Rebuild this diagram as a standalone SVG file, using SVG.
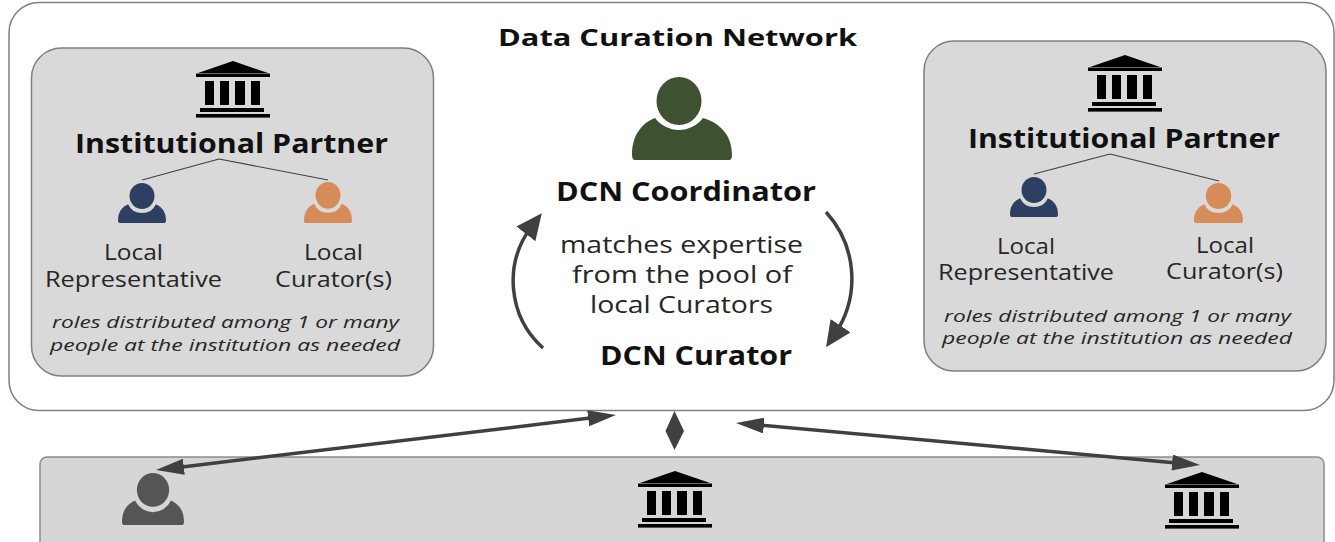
<svg xmlns="http://www.w3.org/2000/svg" width="1335" height="542" viewBox="0 0 1335 542">
  <style>
    text { font-family: "Open Sans", "Liberation Sans", sans-serif; }
    .title { font-size: 24px; font-weight: 700; fill: #111; }
    .head { font-size: 26px; font-weight: 700; fill: #111; }
    .role { font-size: 21px; fill: #262626; }
    .mid { font-size: 24px; fill: #262626; }
    .note { font-size: 17px; font-style: italic; fill: #262626; }
    .panel { fill: #d9d9d9; stroke: #7f7f7f; stroke-width: 1.5; }
    .tie { fill: none; stroke: #404040; stroke-width: 1.2; }
    .dbl { fill: none; stroke: #404040; stroke-width: 3.5; marker-start: url(#ah); marker-end: url(#ah); }
    .arc { fill: none; stroke: #404040; stroke-width: 3.5; marker-end: url(#ahb); }
  </style>
  <defs>
    <marker id="ah" markerUnits="userSpaceOnUse" markerWidth="28" markerHeight="16" refX="10" refY="8" orient="auto-start-reverse">
      <path d="M0,0 L28,8 L0,16 Z" fill="#404040"/>
    </marker>
    <marker id="ahb" markerUnits="userSpaceOnUse" markerWidth="26" markerHeight="24" refX="10" refY="12" orient="auto">
      <path d="M0,0 L26,12 L0,24 Z" fill="#404040"/>
    </marker>
    <symbol id="bank" viewBox="0 0 74 57" width="74" height="57" overflow="visible">
      <path d="M37,0 L72,12 H2 Z" fill="#000"/>
      <rect x="0" y="12.5" width="74" height="3.5"/>
      <rect x="9" y="20" width="9" height="24"/>
      <rect x="24" y="20" width="9" height="24"/>
      <rect x="39" y="20" width="10" height="24"/>
      <rect x="55" y="20" width="9" height="24"/>
      <rect x="4" y="47" width="64" height="4"/>
      <rect x="0" y="53" width="74" height="3.6"/>
    </symbol>
    <symbol id="person" viewBox="-50 0 100 83" preserveAspectRatio="none" overflow="visible">
      <ellipse cx="-3" cy="24" rx="22.5" ry="24" fill="currentColor"/>
      <path d="M-47,83 Q-50,83 -50,78 C-50,58 -40,46 -27,41 A30,30 0 0 0 21,41 C38,46 50,58 50,78 Q50,83 47,83 Z" fill="currentColor"/>
    </symbol>
    <symbol id="person-sm" viewBox="-50 0 100 83" preserveAspectRatio="none" overflow="visible">
      <ellipse cx="0" cy="27" rx="26" ry="27" fill="currentColor"/>
      <path d="M-47,83 Q-50,83 -50,78 C-50,60 -42,50 -29,44 A32,32 0 0 0 29,44 C42,50 50,60 50,78 Q50,83 47,83 Z" fill="currentColor"/>
    </symbol>
  </defs>

  <rect width="1335" height="542" fill="#fff"/>

  <g id="network">
    <rect x="9" y="2.500" width="1325" height="408" rx="30" fill="#fff" stroke="#7f7f7f" stroke-width="1.500"/>
    <text class="title" x="498" y="46" textLength="359" lengthAdjust="spacingAndGlyphs">Data Curation Network</text>
  </g>

  <g id="partner-left">
    <rect class="panel" x="31.500" y="48" width="402" height="328" rx="30"/>
    <use href="#bank" x="196" y="61"/>
    <text class="head" x="75" y="153" textLength="313" lengthAdjust="spacingAndGlyphs">Institutional Partner</text>
    <use href="#person-sm" x="118" y="183" width="48" height="40" color="#2e4062"/>
    <use href="#person-sm" x="304" y="182" width="48" height="41" color="#d68c58"/>
    <text class="role" x="104" y="260" textLength="59" lengthAdjust="spacingAndGlyphs">Local</text>
    <text class="role" x="45" y="287" textLength="177" lengthAdjust="spacingAndGlyphs">Representative</text>
    <text class="role" x="304" y="260" textLength="59" lengthAdjust="spacingAndGlyphs">Local</text>
    <text class="role" x="275" y="287" textLength="117" lengthAdjust="spacingAndGlyphs">Curator(s)</text>
    <text class="note" x="52" y="328" textLength="347" lengthAdjust="spacingAndGlyphs">roles distributed among 1 or many</text>
    <text class="note" x="50" y="351" textLength="350" lengthAdjust="spacingAndGlyphs">people at the institution as needed</text>
  </g>

  <g id="partner-right">
    <rect class="panel" x="924" y="41" width="402" height="330" rx="30"/>
    <use href="#bank" x="1088" y="55"/>
    <text class="head" x="968" y="148" textLength="312" lengthAdjust="spacingAndGlyphs">Institutional Partner</text>
    <use href="#person-sm" x="1010" y="177" width="48" height="40" color="#2e4062"/>
    <use href="#person-sm" x="1194" y="183" width="49" height="40" color="#d68c58"/>
    <text class="role" x="997" y="254" textLength="58" lengthAdjust="spacingAndGlyphs">Local</text>
    <text class="role" x="938" y="280" textLength="176" lengthAdjust="spacingAndGlyphs">Representative</text>
    <text class="role" x="1196" y="253" textLength="58" lengthAdjust="spacingAndGlyphs">Local</text>
    <text class="role" x="1166" y="279" textLength="117" lengthAdjust="spacingAndGlyphs">Curator(s)</text>
    <text class="note" x="944" y="322" textLength="347" lengthAdjust="spacingAndGlyphs">roles distributed among 1 or many</text>
    <text class="note" x="942" y="344" textLength="350" lengthAdjust="spacingAndGlyphs">people at the institution as needed</text>
  </g>

  <g id="coordinator">
    <use href="#person" x="632" y="77" width="100" height="83" color="#3e5232"/>
    <text class="head" x="556" y="201" textLength="260" lengthAdjust="spacingAndGlyphs">DCN Coordinator</text>
  </g>

  <g id="matching">
    <text class="mid" x="560" y="253" textLength="243" lengthAdjust="spacingAndGlyphs">matches expertise</text>
    <text class="mid" x="572" y="283" textLength="220" lengthAdjust="spacingAndGlyphs">from the pool of</text>
    <text class="mid" x="590" y="313" textLength="183" lengthAdjust="spacingAndGlyphs">local Curators</text>
  </g>

  <g id="curator">
    <text class="head" x="600" y="365" textLength="192" lengthAdjust="spacingAndGlyphs">DCN Curator</text>
  </g>

  <g id="members">
    <rect x="40" y="457" width="1284" height="110" rx="7" fill="#d6d6d6" stroke="#8c8c8c" stroke-width="1.500"/>
    <g id="member-person"><use href="#person-sm" x="122" y="473" width="62" height="52" color="#555555"/></g>
    <g id="member-institution-center"><use href="#bank" x="638" y="471"/></g>
    <g id="member-institution-right"><use href="#bank" x="1165" y="472"/></g>
  </g>

  <g id="connectors">
    <line class="tie" x1="219" y1="159" x2="142" y2="180"/>
    <line class="tie" x1="219" y1="159" x2="328" y2="180"/>
    <line class="tie" x1="1110" y1="154" x2="1034" y2="174"/>
    <line class="tie" x1="1110" y1="154" x2="1219" y2="181"/>
    <path class="arc" d="M543,348 A90,90 0 0 1 532,226"/>
    <path class="arc" d="M826,212 A99,99 0 0 1 835,334"/>
    <line class="dbl" x1="173.900" y1="467.900" x2="598.100" y2="417.100"/>
    <line class="dbl" x1="753.900" y1="424.600" x2="1182.100" y2="463.400"/>
    <path d="M674.500,411 L684,431 L674.500,450 L665.500,431 Z" fill="#404040"/>
  </g>
</svg>
